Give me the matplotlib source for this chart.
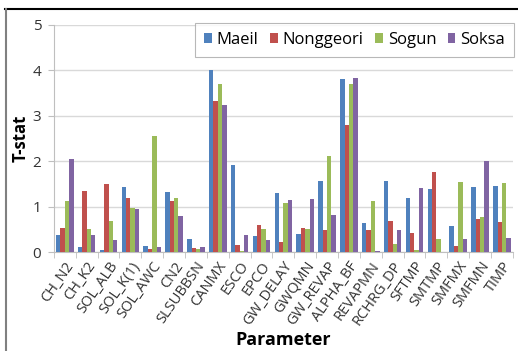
import matplotlib
matplotlib.use("Agg")
import matplotlib.pyplot as plt
import numpy as np
from matplotlib.lines import Line2D

params = ["CH_N2", "CH_K2", "SOL_ALB", "SOL_K(1)", "SOL_AWC", "CN2", "SLSUBBSN",
          "CANMX", "ESCO", "EPCO", "GW_DELAY", "GWQMN", "GW_REVAP", "ALPHA_BF",
          "REVAPMN", "RCHRG_DP", "SFTMP", "SMTMP", "SMFMX", "SMFMN", "TIMP"]
maeil = [0.38, 0.10, 0.04, 1.44, 0.13, 1.33, 0.29, 4.00, 1.91, 0.36, 1.29,
         0.40, 1.57, 3.82, 0.63, 1.56, 1.19, 1.38, 0.57, 1.44, 1.45]
nonggeori = [0.53, 1.35, 1.49, 1.20, 0.06, 1.12, 0.09, 3.32, 0.15, 0.60, 0.21,
             0.53, 0.49, 2.79, 0.49, 0.68, 0.42, 1.76, 0.13, 0.73, 0.65]
sogun = [1.12, 0.51, 0.69, 0.97, 2.56, 1.18, 0.06, 3.70, 0.02, 0.50, 1.07,
         0.51, 2.12, 3.71, 1.12, 0.17, 0.04, 0.28, 1.54, 0.78, 1.51]
soksa = [2.05, 0.38, 0.26, 0.94, 0.11, 0.79, 0.10, 3.24, 0.38, 0.26, 1.15,
         1.16, 0.82, 3.83, 0.02, 0.49, 1.40, 0.01, 0.28, 2.00, 0.31]

series = [("Maeil", maeil, "#4F81BD"),
          ("Nonggeori", nonggeori, "#C0504D"),
          ("Sogun", sogun, "#9BBB59"),
          ("Soksa", soksa, "#8064A2")]

plt.rcParams["font.family"] = ["Liberation Sans Narrow", "Open Sans", "DejaVu Sans"]

fig = plt.figure(figsize=(5.18, 3.51), dpi=100, facecolor="white")
ax = fig.add_axes([0.104, 0.282, 0.886, 0.647])

x = np.arange(len(params))
w = 0.2
for i, (name, vals, col) in enumerate(series):
    ax.bar(x + (i - 1.5) * w, vals, w, color=col, label=name, zorder=3)

ax.set_xlim(-0.5, len(params) - 0.5)
ax.set_ylim(0, 5)
ax.set_yticks(range(6))
ax.yaxis.grid(True, color="#D9D9D9", linewidth=1, zorder=0)
ax.set_xticks(x)
ax.set_xticklabels(params, rotation=55, ha="right", rotation_mode="anchor",
                   fontsize=10.5, color="#333333")
ax.tick_params(axis="x", length=0, pad=5)
ax.set_xticks(np.arange(-0.5, len(params)), minor=True)
ax.tick_params(axis="x", which="minor", length=4, color="#BFBFBF")
ax.tick_params(axis="y", length=4, color="#BFBFBF", labelsize=11, labelcolor="#333333", pad=5)
for s in ["top", "right"]:
    ax.spines[s].set_visible(False)
for s in ["left", "bottom"]:
    ax.spines[s].set_color("#BFBFBF")

ax.set_ylabel("T-stat", fontsize=12, fontweight="bold")
ax.yaxis.set_label_coords(-0.052, 0.5)
ax.set_xlabel("Parameter", fontsize=13, fontweight="bold", labelpad=2)

leg = ax.legend(loc="upper right", bbox_to_anchor=(0.993, 0.935), bbox_transform=fig.transFigure,
                ncol=4, fontsize=12, frameon=True, fancybox=False, handlelength=0.45,
                handleheight=0.6, handletextpad=0.3, columnspacing=0.7, borderpad=0.55,
                borderaxespad=0.0)
leg.get_frame().set_edgecolor("#A6A6A6")
leg.get_frame().set_linewidth(0.8)

# outer frame lines
fig.add_artist(Line2D([0.01, 1.0], [0.974, 0.974], color="black", linewidth=1.5))
fig.add_artist(Line2D([0.012, 0.012], [0.0, 0.974], color="#808080", linewidth=1.5))

fig.savefig("out.png", dpi=100)
